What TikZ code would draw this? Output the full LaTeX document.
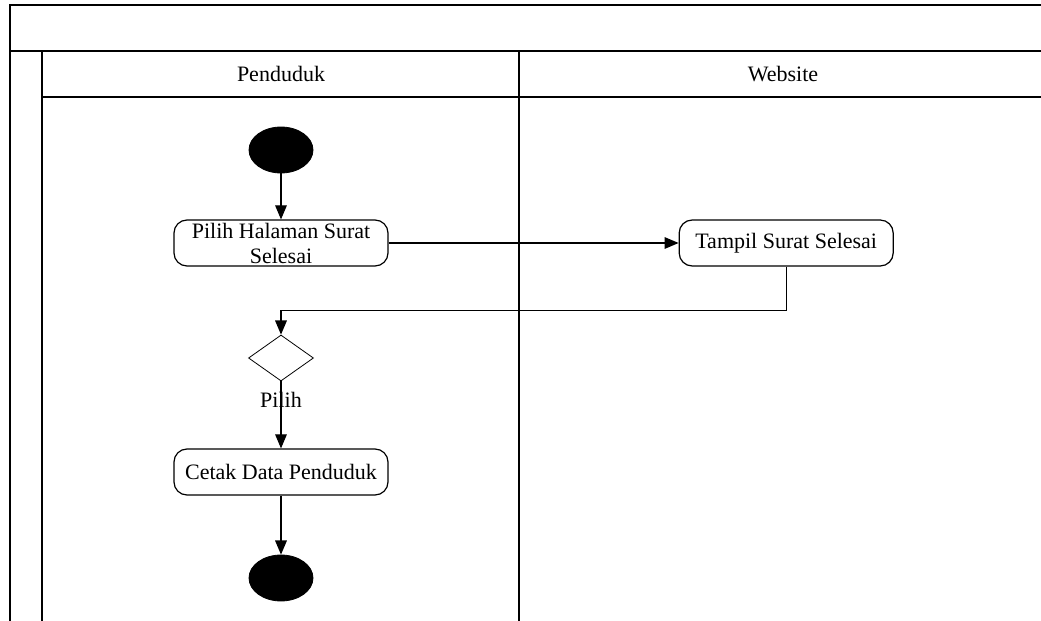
\documentclass[tikz,border=0pt]{standalone}
\usepackage{fontspec}
\setmainfont{Liberation Serif}
\usetikzlibrary{shapes.geometric, arrows, positioning}

\begin{document}
\begin{tikzpicture}[
    x=0.5pt, y=-0.5pt,
    node distance=23pt,
    act/.style={draw, semithick, rectangle, rounded corners=6.5pt, minimum width=107pt, minimum height=23pt, inner sep=1pt, align=center, font=\fontsize{11}{12.5}\selectfont},
    startend/.style={draw, ellipse, fill=black, minimum width=32pt, minimum height=23pt, inner sep=0pt},
    choice/.style={draw, diamond, minimum width=32.5pt, minimum height=23pt, inner sep=0pt},
    lanetext/.style={font=\fontsize{11}{12}\selectfont},
    arrow/.style={->, >=triangle 45, semithick},
    lane/.style={line width=1pt}
]
\useasboundingbox (0,0) rectangle (1041,621);

% Swimlane frame
\draw[lane] (10,621) -- (10,5) -- (1041,5);
\draw[lane] (10,51) -- (1041,51);
\draw[lane] (42,621) -- (42,51);
\draw[lane] (42,97) -- (1041,97);
\draw[lane] (519,51) -- (519,621);
\node[lanetext] (penduduk) at (281,74) {Penduduk};
\node[lanetext] (website) at (783,74) {Website};

% Activities
\node[startend] (mulai) at (281,150) {};
\node[act, below=of mulai] (pilih) {Pilih Halaman Surat\\Selesai};
\node[act, right=145pt of pilih] (tampil) {Tampil Surat Selesai};
\node[choice, below=34pt of pilih] (cabang) {};
\node[lanetext, inner sep=0pt] (pilihlbl) at (281,400) {Pilih};
\node[act, below=33.5pt of cabang] (cetak) {Cetak Data Penduduk};
\node[startend, below=29.5pt of cetak] (selesai) {};

\draw[arrow] (mulai) -- (pilih);
\draw[arrow] (pilih) -- (tampil);
\draw[arrow] (tampil.south) -- ++(0,44) -| (cabang.north);
\draw[arrow] (cabang) -- (cetak);
\draw[arrow] (cetak) -- (selesai);
\end{tikzpicture}
\end{document}
